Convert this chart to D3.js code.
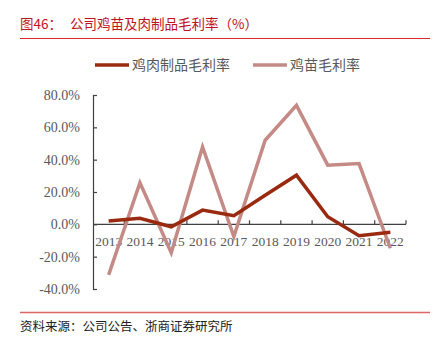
<!DOCTYPE html>
<html>
<head>
<meta charset="utf-8">
<script src="https://cdn.jsdelivr.net/npm/d3@7"></script>
<style>
  body { margin: 0; background: #fff; }
  svg { display: block; }
</style>
</head>
<body>
<div id="chart"></div>
<script>
// data
var years = ["2013","2014","2015","2016","2017","2018","2019","2020","2021","2022"];
var meatMargin = [2.0, 3.7, -1.5, 8.8, 5.3, 18.0, 30.4, 4.7, -7.0, -4.9];
var chickMargin = [-31.3, 25.7, -17.5, 47.9, -7.6, 52.0, 73.6, 36.6, 37.6, -14.8];
var yTicks = [-40, -20, 0, 20, 40, 60, 80];
var seriesNames = ["鸡肉制品毛利率", "鸡苗毛利率"];
var seriesColors = ["#992a10", "#c48a86"];

function start(){
    var width = 434, height = 352;
    var margin = {top: 95, right: 28, bottom: 63, left: 93};
    var cjk = "'Noto Sans CJK SC', 'Noto Sans', sans-serif";
    var serif = "'Liberation Serif', 'DejaVu Serif', serif";

    var svg = d3.select("#chart").append("svg")
        .attr("width", width)
        .attr("height", height);

    // header
    svg.append("text")
        .attr("x", 20).attr("y", 29)
        .style("font-family", cjk).style("font-size", "13.5px")
        .style("fill", "#c0121c")
        .text("图46：");
    svg.append("text")
        .attr("x", 70).attr("y", 29)
        .style("font-family", cjk).style("font-size", "13.5px")
        .style("fill", "#c0121c")
        .text("公司鸡苗及肉制品毛利率（%）");
    svg.append("line")
        .attr("x1", 20).attr("x2", 430).attr("y1", 38.5).attr("y2", 38.5)
        .attr("stroke", "#d42a2a").attr("stroke-width", 1);

    // footer
    svg.append("line")
        .attr("x1", 20).attr("x2", 430).attr("y1", 312.5).attr("y2", 312.5)
        .attr("stroke", "#e06666").attr("stroke-width", 1.3);
    svg.append("text")
        .attr("x", 20).attr("y", 331)
        .style("font-family", cjk).style("font-size", "12.5px")
        .style("fill", "#222")
        .text("资料来源：公司公告、浙商证券研究所");

    var x = d3.scaleBand()
        .domain(years)
        .range([margin.left, width - margin.right]);
    var y = d3.scaleLinear()
        .domain([d3.min(yTicks), d3.max(yTicks)])
        .range([height - margin.bottom, margin.top]);

    // y axis, ticks pointing inward
    var yAxis = svg.append("g")
        .attr("transform", "translate(" + margin.left + ",0)")
        .call(d3.axisLeft(y).tickValues(yTicks).tickSize(-4).tickPadding(13)
            .tickFormat(function(d){ return d.toFixed(1) + "%"; }));
    yAxis.select(".domain").attr("stroke", "#404040").attr("stroke-width", 1.2);
    yAxis.selectAll(".tick line").attr("stroke", "#404040").attr("stroke-width", 1.2);
    yAxis.selectAll("text")
        .style("font-family", serif).style("font-size", "14px").style("fill", "#595959");

    // x axis at zero, ticks on band boundaries pointing up
    var xAxis = svg.append("g")
        .attr("transform", "translate(0," + y(0) + ")");
    xAxis.append("line")
        .attr("x1", x.range()[0]).attr("x2", x.range()[1])
        .attr("stroke", "#404040").attr("stroke-width", 1.2);
    xAxis.selectAll(".bt")
        .data(years)
        .enter()
        .append("line")
        .attr("class", "bt")
        .attr("x1", function(d){ return x(d) + x.bandwidth(); })
        .attr("x2", function(d){ return x(d) + x.bandwidth(); })
        .attr("y1", 0).attr("y2", -4)
        .attr("stroke", "#404040").attr("stroke-width", 1.2);
    xAxis.selectAll(".xl")
        .data(years)
        .enter()
        .append("text")
        .attr("class", "xl")
        .attr("x", function(d){ return x(d) + x.bandwidth() / 2; })
        .attr("y", 22)
        .attr("text-anchor", "middle")
        .style("font-family", serif).style("font-size", "13.5px").style("fill", "#595959")
        .text(function(d){ return d; });

    // lines
    var seriesData = [meatMargin, chickMargin];
    var line = d3.line()
        .x(function(d, i){ return x(years[i]) + x.bandwidth() / 2; })
        .y(function(d){ return y(d); });

    svg.selectAll(".series")
        .data([1, 0])
        .enter()
        .append("path")
        .attr("class", "series")
        .attr("d", function(k){ return line(seriesData[k]); })
        .attr("fill", "none")
        .attr("stroke", function(k){ return seriesColors[k]; })
        .attr("stroke-width", 3.5)
        .attr("stroke-linejoin", "miter");

    // legend
    var legendX = [95, 253];
    var legend = svg.selectAll(".legend")
        .data(seriesNames)
        .enter()
        .append("g")
        .attr("class", "legend")
        .attr("transform", function(d, i){ return "translate(" + legendX[i] + ",65)"; });
    legend.append("line")
        .attr("x1", 0).attr("x2", 34).attr("y1", 0).attr("y2", 0)
        .attr("stroke", function(d, i){ return seriesColors[i]; })
        .attr("stroke-width", 3.5);
    legend.append("text")
        .attr("x", 37).attr("y", 5)
        .style("font-family", cjk).style("font-size", "14px").style("fill", "#595959")
        .text(function(d){ return d; });
}

start();
</script>
</body>
</html>
